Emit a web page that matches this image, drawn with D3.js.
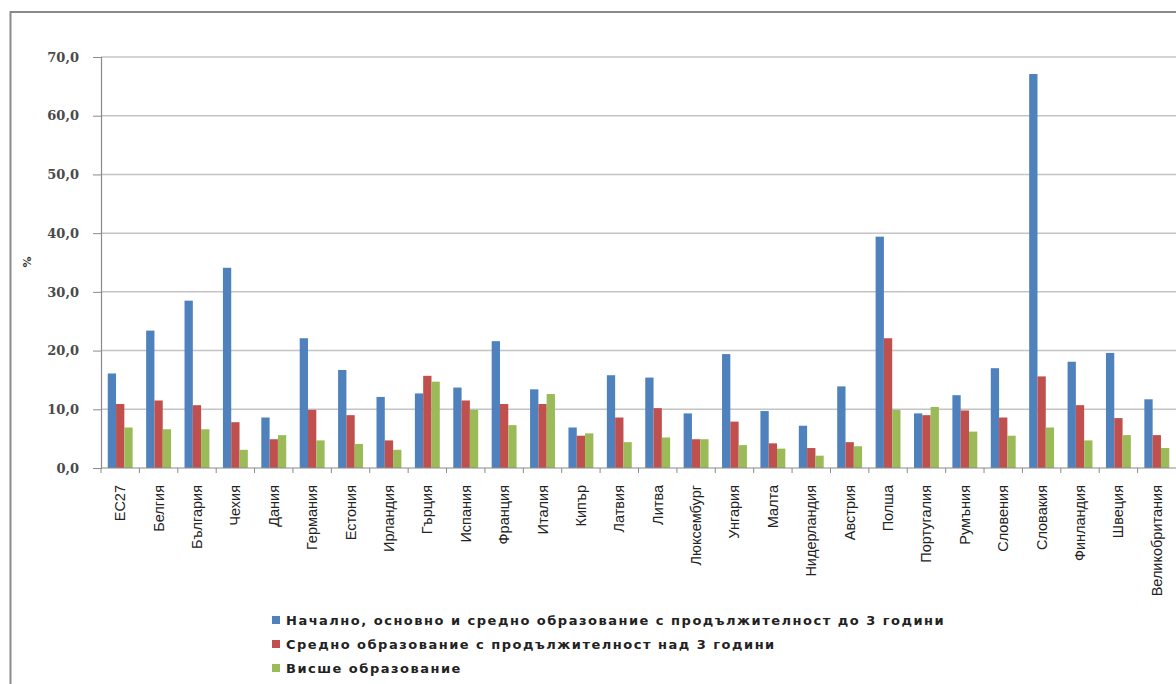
<!DOCTYPE html>
<html><head><meta charset="utf-8">
<script src="https://cdn.jsdelivr.net/npm/d3@7"></script>
<style>body{margin:0;background:#fff;}svg{display:block;}</style>
</head><body><svg id="c" width="1176" height="684"></svg>
<script>
const categories = ["ЕС27","Белгия","България","Чехия","Дания","Германия","Естония","Ирландия","Гърция","Испания","Франция","Италия","Кипър","Латвия","Литва","Люксембург","Унгария","Малта","Нидерландия","Австрия","Полша","Португалия","Румъния","Словения","Словакия","Финландия","Швеция","Великобритания"];
const primary   = [16.1,23.4,28.5,34.1,8.6,22.1,16.7,12.1,12.7,13.7,21.6,13.4,6.9,15.8,15.4,9.3,19.4,9.7,7.2,13.9,39.4,9.3,12.4,17.0,67.1,18.1,19.6,11.7];
const secondary = [10.9,11.5,10.7,7.8,4.9,9.9,9.0,4.7,15.7,11.5,10.9,10.9,5.5,8.6,10.2,4.9,7.9,4.2,3.4,4.4,22.1,9.0,9.8,8.6,15.6,10.7,8.5,5.6];
const higher    = [6.9,6.6,6.6,3.1,5.6,4.7,4.1,3.1,14.7,9.9,7.3,12.6,5.9,4.4,5.2,4.9,3.9,3.3,2.1,3.7,9.9,10.4,6.2,5.5,6.9,4.7,5.6,3.4];
const seriesNames = ["Начално, основно и средно образование с продължителност до 3 години","Средно образование с продължителност над 3 години","Висше образование"];
const seriesColors = ["#4F81BD","#C0504D","#9BBB59"];
const yTicks = [0,10,20,30,40,50,60,70];
const yLabel = "%";

(function(){
const series = [primary, secondary, higher];
const svg = d3.select("#c");

svg.append("rect").attr("x",10.5).attr("y",12).attr("width",1300).attr("height",800)
  .attr("fill","none").attr("stroke","#8a8a8a").attr("stroke-width",2);

const mL = 101, mR = 1176, mT = 57, mB = 468;
const x = d3.scaleBand().domain(categories).range([mL, mR]).paddingInner(0).paddingOuter(0);
const barW = 8.3;
const xs = d3.scaleBand().domain(d3.range(3)).range([0, barW*3]);
const y = d3.scaleLinear().domain([0,70]).range([mB, mT]);

svg.append("g").selectAll("line").data(yTicks.filter(d=>d>0)).join("line")
  .attr("x1",mL).attr("x2",mR).attr("y1",d=>y(d)).attr("y2",d=>y(d))
  .attr("stroke","#c4c4c4").attr("stroke-width",1.5);

const yAxis = svg.append("g").attr("transform",`translate(${mL},0)`)
  .call(d3.axisLeft(y).tickValues(yTicks).tickSize(8).tickFormat(d=>d3.format(".1f")(d).replace(".",",")));
yAxis.select(".domain").attr("stroke","#8a8a8a").attr("stroke-width",1.2);
yAxis.selectAll(".tick line").attr("stroke","#8a8a8a");
yAxis.selectAll(".tick text").attr("x",-22).attr("font-family","DejaVu Serif").attr("font-weight","bold")
  .attr("font-size",13).attr("fill","#4a4a4a");

svg.append("text").attr("transform","translate(31,262) rotate(-90)").attr("text-anchor","middle")
  .attr("font-family","DejaVu Sans").attr("font-weight","bold").attr("font-size",11).attr("fill","#333").text(yLabel);

const groupOffset = (x.bandwidth() - barW*3)/2;
series.forEach((vals, si) => {
  svg.append("g").selectAll("rect").data(vals).join("rect")
    .attr("x",(d,i)=>x(categories[i]) + groupOffset + xs(si))
    .attr("width",xs.bandwidth())
    .attr("y",d=>y(d)).attr("height",d=>y(0)-y(d))
    .attr("fill",seriesColors[si]);
});

svg.append("line").attr("x1",mL).attr("x2",mR).attr("y1",mB).attr("y2",mB)
  .attr("stroke","#8a8a8a").attr("stroke-width",1.2);
svg.append("g").selectAll("line").data(categories).join("line")
  .attr("x1",d=>x(d)).attr("x2",d=>x(d)).attr("y1",mB).attr("y2",mB+5)
  .attr("stroke","#8a8a8a");
svg.append("g").selectAll("text").data(categories).join("text")
  .attr("transform",d=>`translate(${x(d)+x.bandwidth()/2+5},485) rotate(-90)`)
  .attr("text-anchor","end")
  .attr("font-family","Liberation Sans Narrow, Liberation Sans").attr("font-size",14.5)
  .attr("fill","#222").text(d=>d);

const lg = svg.append("g");
seriesNames.forEach((n,i)=>{
  const cy = 620 + i*24;
  lg.append("rect").attr("x",272).attr("y",cy-4).attr("width",8).attr("height",8).attr("fill",seriesColors[i]);
  lg.append("text").attr("x",286).attr("y",cy+4.5).attr("font-family","DejaVu Sans").attr("font-weight","bold")
    .attr("font-size",13).attr("letter-spacing",1.5).attr("fill","#222").text(n);
});
})();
</script></body></html>
